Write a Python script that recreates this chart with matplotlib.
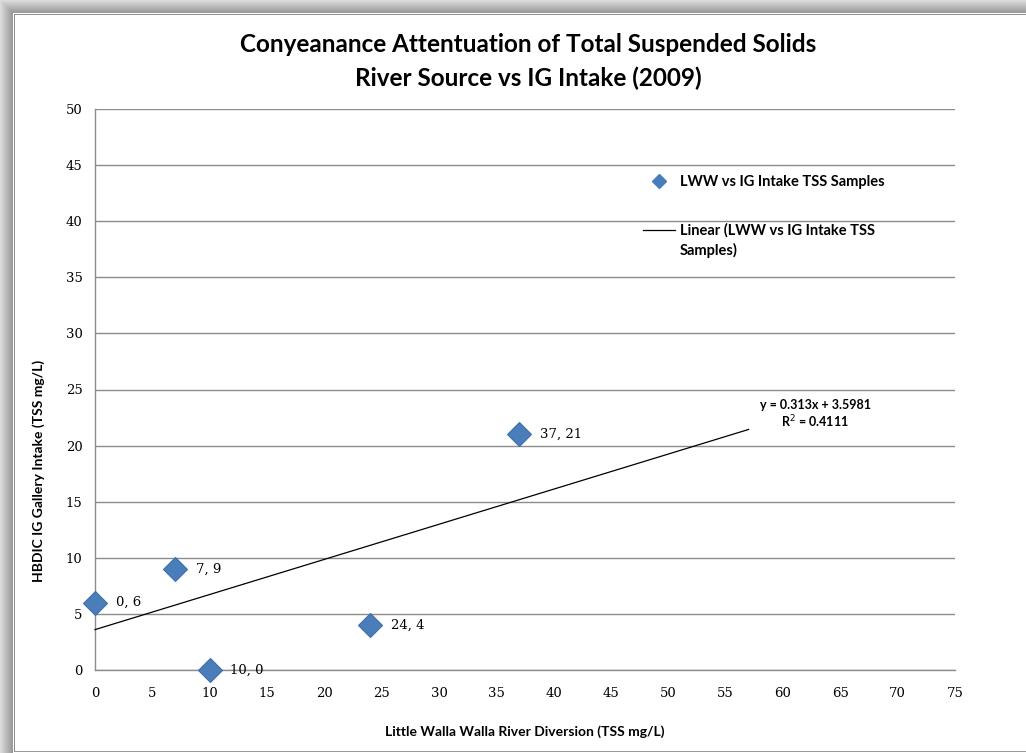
import numpy as np
import matplotlib
matplotlib.use("Agg")
import matplotlib.pyplot as plt
from matplotlib.lines import Line2D

# Sample pairs: river diversion TSS (x) vs IG gallery intake TSS (y)
river_tss = [0, 7, 10, 24, 37]
intake_tss = [6, 9, 0, 4, 21]
point_labels = ["0, 6", "7, 9", "10, 0", "24, 4", "37, 21"]

# Linear trendline as reported by the spreadsheet
trend_slope = 0.313
trend_intercept = 3.5981
trend_r2 = 0.4111
trend_x_end = 57

x_ticks = list(range(0, 80, 5))
y_ticks = list(range(0, 55, 5))

W, H = 1026, 753
fig = plt.figure(figsize=(W / 100, H / 100), dpi=100)
fig.patch.set_facecolor("white")

# Drop-shadow frame around the chart area
bg = np.ones((H, W, 3))
for i in range(13):
    v = 0.86 - 0.26 * (i / 12)
    bg[i:, i, :] = v
    bg[i, i:, :] = v
bg[13:, 13, :] = 1.0
bg[13, 13:, :] = 1.0
bg[14:H - 1, 14, :] = 0.55
bg[14, 14:, :] = 0.55
bg[H - 2, 14:, :] = 0.6
bg[15:H - 2, 15:, :] = 1.0
fig.figimage(bg, xo=0, yo=0, origin="upper", zorder=-10)

ax = fig.add_axes([95 / W, 83 / H, 860 / W, 561 / H])
ax.set_zorder(5)
ax.set_facecolor("none")
ax.set_xlim(0, 75)
ax.set_ylim(0, 50)
ax.set_xticks(x_ticks)
ax.set_yticks(y_ticks)
ax.yaxis.grid(True, color="#8c8c8c", linewidth=1.0)
ax.set_axisbelow(True)
for side in ("top", "right"):
    ax.spines[side].set_visible(False)
for side in ("left", "bottom"):
    ax.spines[side].set_color("#8c8c8c")
    ax.spines[side].set_linewidth(1.0)
ax.tick_params(length=0)
ax.tick_params(axis="x", pad=12)
ax.tick_params(axis="y", pad=9)
for lbl in ax.get_xticklabels() + ax.get_yticklabels():
    lbl.set_family("DejaVu Serif")
    lbl.set_fontsize(9.5)

# Trendline
tx = np.array([0, trend_x_end])
ty = trend_slope * tx + trend_intercept
ax.plot(tx, ty, color="black", linewidth=0.9, zorder=3, clip_on=False)

# Samples
ax.plot(river_tss, intake_tss, linestyle="none", marker="D", markersize=12.5,
        markerfacecolor="#4a7ebb", markeredgecolor="#3f6fa8", markeredgewidth=0.8,
        zorder=4, clip_on=False)
for x, y, lab in zip(river_tss, intake_tss, point_labels):
    ax.annotate(lab, (x, y), xytext=(15, 0), textcoords="offset points",
                ha="left", va="center", fontsize=9.5, family="DejaVu Serif",
                zorder=5)

# Trendline equation
ax.text(62.8, 23.6, f"y = {trend_slope}x + {trend_intercept}",
        ha="center", va="center", fontsize=9, family="Lato", weight="bold")
ax.text(62.8, 22.1, f"R$^2$ = {trend_r2}",
        ha="center", va="center", fontsize=9, family="Lato", weight="bold")

# Legend
handles = [
    Line2D([], [], linestyle="none", marker="D", markersize=7,
           markerfacecolor="#4a7ebb", markeredgecolor="#4a7ebb"),
    Line2D([], [], color="black", linewidth=0.9),
]
labels = ["LWW vs IG Intake TSS Samples", "Linear (LWW vs IG Intake TSS\nSamples)"]
leg = ax.legend(handles, labels, loc="upper left", bbox_to_anchor=(0.622, 0.905),
                frameon=False, prop={"family": "Lato", "weight": "bold", "size": 10.5},
                labelspacing=2.3, handlelength=2.2, handletextpad=0.3)
leg.get_texts()[1].set_linespacing(1.45)
# keep the trendline key level with the first line of its two-line label
trend_key = leg.get_lines()[1]
trend_key.set_ydata(np.asarray(trend_key.get_ydata()) + 7.5)

ax.set_xlabel("Little Walla Walla River Diversion (TSS mg/L)", family="Lato",
              weight="bold", fontsize=10)
ax.xaxis.set_label_coords(0.5, -0.098)
ax.set_ylabel("HBDIC IG Gallery Intake (TSS mg/L)", family="Lato",
              weight="bold", fontsize=10)
ax.yaxis.set_label_coords(-0.058, 0.355)

fig.text(528 / W, 1 - 45 / H, "Conyeanance Attentuation of Total Suspended Solids",
         ha="center", va="center", family="Lato", weight="bold", fontsize=17.5)
fig.text(528 / W, 1 - 78 / H, "River Source vs IG Intake (2009)",
         ha="center", va="center", family="Lato", weight="bold", fontsize=17.5)

fig.savefig("out.png", dpi=100)
